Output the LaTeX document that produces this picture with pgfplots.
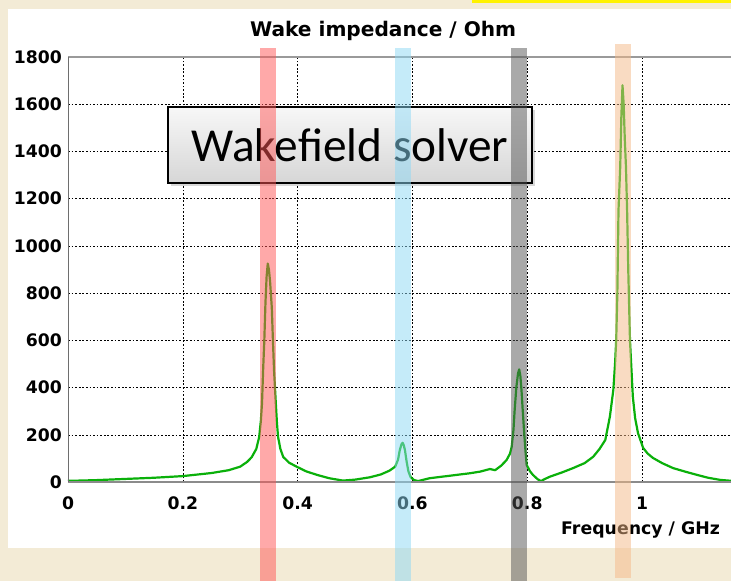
\documentclass[border=0pt]{standalone}
\usepackage{fontspec}
\setmainfont{DejaVu Sans}
\newfontfamily\calfont{Carlito}
\usepackage{pgfplots}
\pgfplotsset{compat=1.18}
\usetikzlibrary{shadows}
\definecolor{bgbeige}{RGB}{243,235,214}
\definecolor{curvegreen}{RGB}{10,176,10}
\definecolor{bandred}{RGB}{255,85,85}
\definecolor{bandblue}{RGB}{141,217,245}
\definecolor{bandgray}{RGB}{85,85,85}
\definecolor{bandorange}{RGB}{245,185,135}
\definecolor{axgray}{RGB}{110,110,110}
\begin{document}
\begin{tikzpicture}
% slide background
\fill[bgbeige] (-68bp,-99bp) rectangle (663bp,482bp);
\fill[white] (-60bp,-66bp) rectangle (663bp,473bp);
\fill[yellow] (404bp,479bp) rectangle (663bp,482bp);
\begin{axis}[
  scale only axis, width=663bp, height=425bp,
  xmin=0, xmax=1.155, ymin=0, ymax=1800,
  clip=false,
  axis line style={draw=none},
  xtick={0,0.2,0.4,0.6,0.8,1},
  xticklabels={0,0.2,0.4,0.6,0.8,1},
  ytick={0,200,...,1800},
  grid=major,
  major grid style={black, line width=0.5pt, dash pattern=on 1.8pt off 1.8pt},
  major tick length=0pt,
  /pgf/number format/assume math mode=true,
  /pgf/number format/1000 sep={},
  tick label style={font=\fontsize{17.3}{19}\selectfont\bfseries, inner sep=0pt},
  yticklabel style={anchor=east, xshift=-6bp},
  xticklabel style={anchor=north, yshift=-15bp},
]
\addplot[curvegreen, line width=2.2bp, line join=round] coordinates {
(0.000,5) (0.02,6) (0.05,8) (0.08,11) (0.10,13) (0.15,18) (0.20,25) (0.25,38)
(0.28,50) (0.30,65) (0.312,85) (0.320,105) (0.328,140) (0.333,190) (0.336,260)
(0.338,335) (0.340,480) (0.342,600) (0.344,760) (0.346,870) (0.348,925)
(0.350,900) (0.352,850) (0.355,740) (0.357,600) (0.359,470) (0.362,335)
(0.364,250) (0.366,190) (0.370,140) (0.375,106) (0.385,82) (0.399,64)
(0.415,45) (0.434,30) (0.455,16) (0.479,6) (0.50,10) (0.526,20) (0.545,32)
(0.560,48) (0.570,65) (0.575,95) (0.578,135) (0.581,160) (0.583,166)
(0.585,155) (0.587,135) (0.590,85) (0.593,45) (0.597,20) (0.603,8) (0.61,4)
(0.62,10) (0.63,16) (0.66,25) (0.70,37) (0.718,44) (0.735,55) (0.744,50)
(0.755,70) (0.764,93) (0.770,120) (0.773,150) (0.776,220) (0.778,300)
(0.781,400) (0.784,460) (0.786,477) (0.788,450) (0.790,390) (0.792,310)
(0.794,234) (0.797,130) (0.799,72) (0.805,45) (0.81,30) (0.818,12) (0.824,4)
(0.83,12) (0.84,23) (0.86,40) (0.88,59) (0.90,80) (0.915,107) (0.926,140)
(0.936,178) (0.944,277) (0.950,390) (0.953,500) (0.955,600) (0.957,800)
(0.959,1150) (0.962,1335) (0.964,1550) (0.966,1680) (0.968,1600) (0.970,1450)
(0.972,1335) (0.974,1150) (0.976,900) (0.979,600) (0.984,361) (0.988,270)
(0.993,207) (1.002,144) (1.010,120) (1.019,102) (1.035,80) (1.054,59)
(1.075,44) (1.096,30) (1.115,18) (1.136,9) (1.155,5)
};
% axis lines
\draw[axgray!70, line width=1.2pt] (axis cs:0,1800) -- (axis cs:1.155,1800);
\draw[axgray!80, line width=1.2pt] (axis cs:0,0) -- (axis cs:1.155,0);
\draw[axgray, line width=1pt] (axis cs:0,0) -- (axis cs:0,1800);
% texts
\node[font=\fontsize{20.2}{22}\selectfont\bfseries, anchor=base] at (axis cs:0.549,1885) {Wake impedance / Ohm};
\node[font=\fontsize{17.4}{19}\selectfont\bfseries, anchor=base east, inner sep=0pt] at (axis cs:1.136,-224) {Frequency / GHz};
% box
\node[draw=black, line width=1.5bp, top color=gray!6, bottom color=gray!32,
      minimum width=364bp, minimum height=76bp, inner sep=0pt,
      drop shadow={shadow xshift=3bp, shadow yshift=-3bp, opacity=0.3},
      font=\calfont\fontsize{47.5}{50}\selectfont] at (axis cs:0.4913,1427) {Wakefield solver};
% band corners
\coordinate (r1) at (axis cs:0.3345,1838); \coordinate (r2) at (axis cs:0.3624,-419);
\coordinate (b1) at (axis cs:0.5697,1838); \coordinate (b2) at (axis cs:0.5976,-419);
\coordinate (g1) at (axis cs:0.7718,1838); \coordinate (g2) at (axis cs:0.7997,-419);
\coordinate (o1) at (axis cs:0.9530,1855); \coordinate (o2) at (axis cs:0.9808,-406);
\end{axis}
\fill[bandred, opacity=0.5] (r1) rectangle (r2);
\fill[bandblue, opacity=0.5] (b1) rectangle (b2);
\fill[bandgray, opacity=0.5] (g1) rectangle (g2);
\fill[bandorange, opacity=0.5] (o1) rectangle (o2);
\pgfresetboundingbox
\useasboundingbox (-68bp,-99bp) rectangle (663bp,482bp);
\end{tikzpicture}
\end{document}
